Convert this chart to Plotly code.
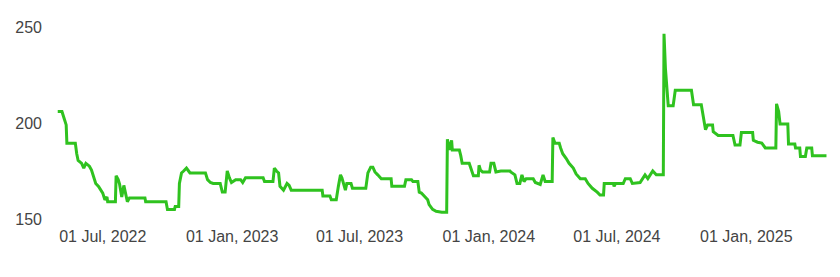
import plotly.graph_objects as go

dates = [
    "2022-04-28", "2022-05-04", "2022-05-07", "2022-05-10", "2022-05-11", "2022-05-23", "2022-05-25", "2022-05-27",
    "2022-06-01", "2022-06-04", "2022-06-07", "2022-06-12", "2022-06-15", "2022-06-18", "2022-06-21", "2022-06-25",
    "2022-06-28", "2022-07-01", "2022-07-04", "2022-07-07", "2022-07-08", "2022-07-19", "2022-07-20", "2022-07-23",
    "2022-07-25", "2022-07-28", "2022-07-31", "2022-08-03", "2022-08-05", "2022-08-08", "2022-08-30", "2022-08-31",
    "2022-09-29", "2022-10-01", "2022-10-11", "2022-10-12", "2022-10-17", "2022-10-18", "2022-10-21", "2022-10-24",
    "2022-10-28", "2022-10-31", "2022-11-02", "2022-11-24", "2022-11-27", "2022-12-01", "2022-12-05", "2022-12-15",
    "2022-12-18", "2022-12-22", "2022-12-25", "2022-12-28", "2022-12-31", "2023-01-06", "2023-01-13", "2023-01-16",
    "2023-01-20", "2023-02-14", "2023-02-16", "2023-02-28", "2023-03-02", "2023-03-05", "2023-03-08", "2023-03-10",
    "2023-03-15", "2023-03-20", "2023-03-23", "2023-03-26", "2023-05-09", "2023-05-10", "2023-05-20", "2023-05-22",
    "2023-05-29", "2023-06-01", "2023-06-04", "2023-06-06", "2023-06-11", "2023-06-13", "2023-06-19", "2023-06-21",
    "2023-07-10", "2023-07-13", "2023-07-17", "2023-07-20", "2023-07-23", "2023-07-27", "2023-08-01", "2023-08-15",
    "2023-08-16", "2023-09-03", "2023-09-05", "2023-09-13", "2023-09-15", "2023-09-22", "2023-09-24", "2023-09-27",
    "2023-09-30", "2023-10-03", "2023-10-06", "2023-10-08", "2023-10-13", "2023-10-18", "2023-10-26", "2023-11-02",
    "2023-11-03", "2023-11-06", "2023-11-09", "2023-11-10", "2023-11-20", "2023-11-22", "2023-11-24", "2023-12-04",
    "2023-12-07", "2023-12-10", "2023-12-17", "2023-12-18", "2023-12-20", "2023-12-23", "2024-01-02", "2024-01-04",
    "2024-01-08", "2024-01-11", "2024-01-18", "2024-01-31", "2024-02-01", "2024-02-07", "2024-02-10", "2024-02-14",
    "2024-02-17", "2024-02-20", "2024-02-23", "2024-03-04", "2024-03-07", "2024-03-14", "2024-03-18", "2024-03-21",
    "2024-03-31", "2024-04-01", "2024-04-04", "2024-04-10", "2024-04-12", "2024-04-15", "2024-04-20", "2024-04-24",
    "2024-04-30", "2024-05-04", "2024-05-10", "2024-05-17", "2024-05-21", "2024-05-27", "2024-06-03", "2024-06-07",
    "2024-06-12", "2024-06-13", "2024-06-26", "2024-06-27", "2024-06-29", "2024-07-10", "2024-07-13", "2024-07-20",
    "2024-07-23", "2024-08-03", "2024-08-10", "2024-08-14", "2024-08-21", "2024-08-26", "2024-09-05", "2024-09-06",
    "2024-09-08", "2024-09-11", "2024-09-12", "2024-09-19", "2024-09-22", "2024-10-15", "2024-10-18", "2024-10-29",
    "2024-11-01", "2024-11-04", "2024-11-07", "2024-11-14", "2024-11-15", "2024-11-22", "2024-12-13", "2024-12-16",
    "2024-12-23", "2024-12-25", "2025-01-10", "2025-01-11", "2025-01-17", "2025-01-23", "2025-01-28", "2025-02-12",
    "2025-02-13", "2025-02-16", "2025-02-18", "2025-03-01", "2025-03-02", "2025-03-11", "2025-03-12", "2025-03-18",
    "2025-03-19", "2025-03-26", "2025-03-28", "2025-04-04", "2025-04-05", "2025-04-25",
]

values = [
    206, 206, 202.5, 199, 189.5, 189.5, 184, 180.5,
    179, 176.5, 179, 177.5, 175.5, 171.5, 168.5, 167,
    165, 163.5, 160, 161.5, 159, 159, 172.5, 170.5,
    168, 161.5, 167.5, 161.5, 159, 161, 161, 159,
    159, 155, 155, 156.5, 156.5, 168.5, 174, 175,
    176.5, 175, 174, 174, 170.5, 169, 168.5, 168.5,
    164, 164, 175, 171.5, 169, 170.5, 170.5, 169,
    171.5, 171.5, 169.5, 169.5, 176.5, 175, 174, 167,
    165, 168.5, 167.5, 165, 165, 162, 162, 160,
    160, 167, 173, 171.5, 165, 168.5, 168.5, 166,
    166, 174, 177, 177, 174.5, 173, 171, 171,
    167, 167, 170.5, 170.5, 169.5, 169.5, 164, 163.5,
    162.5, 161, 160, 157.5, 155, 154, 153.5, 153.5,
    191.5, 186, 191, 186, 186, 183, 179, 179,
    175.5, 172.5, 172.5, 178, 175.5, 174.5, 174.5, 179,
    179, 174.5, 175, 175, 174.5, 173, 168.5, 168.5,
    173, 169.5, 171, 171, 169, 168, 173, 169.5,
    169.5, 192.5, 189.5, 189.5, 187, 184, 181.5, 179,
    176.5, 173.5, 171, 171, 168.5, 166, 164, 162.5,
    162.5, 168.5, 168.5, 167, 168.5, 168.5, 171, 171,
    168.5, 169, 173, 171, 175, 173, 173, 246.5,
    228.5, 213.5, 209, 209, 217, 217, 209.5, 209.5,
    203, 196.5, 199, 199, 195.5, 193.5, 193.5, 188.5,
    188.5, 195, 195, 191, 190, 189.5, 187, 187,
    210, 206, 199.5, 199.5, 189, 189, 187, 187,
    182.5, 182.5, 187, 187, 183, 183,
]

x_range = ["2022-04-17", "2025-04-30"]
y_range = [150, 250]
y_ticks = [150, 200, 250]

fig = go.Figure()
fig.add_trace(go.Scatter(
    x=dates, y=values, mode="lines",
    line=dict(color="#2fc21f", width=3),
    hoverinfo="skip",
))

fig.update_layout(
    width=840, height=277,
    margin=dict(l=50, r=10, t=27, b=58),
    paper_bgcolor="white", plot_bgcolor="white",
    showlegend=False,
    font=dict(family="Liberation Sans, Arial, sans-serif", size=16, color="#444444"),
    xaxis=dict(
        type="date", range=x_range,
        tick0="2022-01-01", dtick="M6", tickformat="%d %b, %Y",
        showgrid=False, zeroline=False, showline=False,
        ticks="", ticklabelstandoff=6,
    ),
    yaxis=dict(
        range=y_range, tickvals=y_ticks,
        showgrid=False, zeroline=False, showline=False,
        ticks="", ticklabelstandoff=7,
    ),
)

fig.write_html("out.html")
